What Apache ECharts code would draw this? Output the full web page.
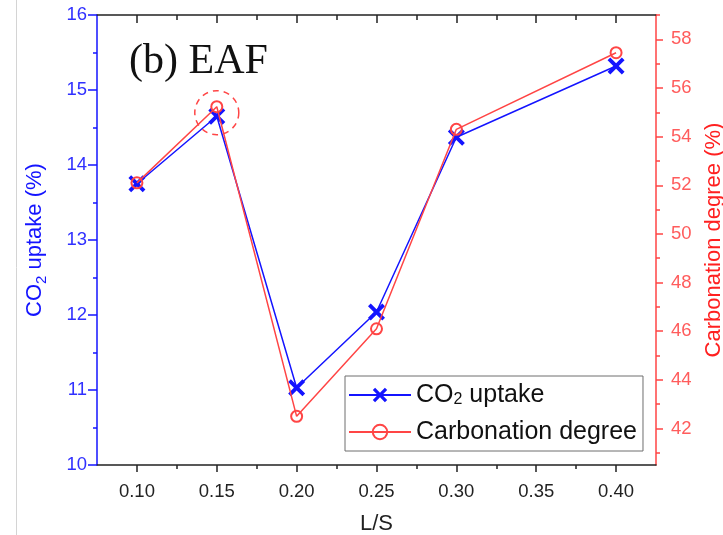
<!DOCTYPE html>
<html>
<head>
<meta charset="utf-8">
<title>EAF carbonation vs L/S</title>
<script src="https://cdn.jsdelivr.net/npm/echarts@6/dist/echarts.min.js"></script>
<style>
  html, body { margin: 0; padding: 0; background: #fff; overflow: hidden; }
  #chart { width: 723px; height: 535px; }
</style>
</head>
<body>
<div id="chart"></div>
<script>
// Liquid-to-solid ratio of each run
const lsRatio = [0.10, 0.15, 0.20, 0.25, 0.30, 0.40];
// CO2 uptake (%) at each L/S
const co2Uptake = [13.75, 14.65, 11.03, 12.04, 14.37, 15.32];
// Carbonation degree (%) at each L/S
const carbonationDegree = [52.1, 55.23, 42.5, 46.1, 54.3, 57.45];

// Tick positions
const xMajorTicks = [0.10, 0.15, 0.20, 0.25, 0.30, 0.35, 0.40];
const xMinorTicks = [0.125, 0.175, 0.225, 0.275, 0.325, 0.375];
const rightMajorTicks = [42, 44, 46, 48, 50, 52, 54, 56, 58];
const rightMinorTicks = [41, 43, 45, 47, 49, 51, 53, 55, 57, 59];

const FONT = "'Liberation Sans', Arial, sans-serif";
const BLUE = '#1414ff';
const RED = '#ff4545';
const X_RANGE = { min: 0.075, max: 0.425 };
const RIGHT_RANGE = { min: 40.5, max: 59 };

// Bold "X" marker drawn as a filled outline
const crossPath = 'path://M0,1.6 L1.6,0 L5,3.4 L8.4,0 L10,1.6 L6.6,5 L10,8.4 L8.4,10 L5,6.6 L1.6,10 L0,8.4 L3.4,5 Z';

const chart = echarts.init(document.getElementById('chart'), null, { renderer: 'canvas' });

const plainAxis = {
  type: 'value',
  splitLine: { show: false },
  axisLabel: { show: false },
  axisLine: { show: false },
};

chart.setOption({
  animation: false,
  backgroundColor: '#fff',
  textStyle: { fontFamily: FONT },
  title: {
    text: '(b) EAF',
    left: 124,
    top: 36,
    textStyle: { fontFamily: "'Liberation Serif', 'Times New Roman', serif", fontSize: 42, fontWeight: 'normal', color: '#111' }
  },
  grid: { left: 97, right: 67, top: 15, bottom: 70, containLabel: false, outerBoundsMode: 'none' },
  legend: {
    orient: 'vertical',
    left: 345,
    top: 376,
    padding: [6, 6, 6, 3],
    itemGap: 11,
    itemWidth: 62,
    itemHeight: 18,
    borderColor: '#6e6e6e',
    borderWidth: 1,
    borderRadius: 0,
    backgroundColor: '#fff',
    data: ['CO2 uptake', 'Carbonation degree'],
    formatter: function (name) {
      return name === 'CO2 uptake' ? 'CO{sub|2} uptake' : name;
    },
    textStyle: {
      fontFamily: FONT,
      fontSize: 25,
      color: '#111',
      lineHeight: 26,
      rich: { sub: { fontSize: 16, lineHeight: 16, verticalAlign: 'bottom', fontFamily: FONT, color: '#111' } }
    }
  },
  xAxis: [
    {
      ...X_RANGE,
      type: 'value',
      position: 'bottom',
      name: 'L/S',
      nameLocation: 'middle',
      nameGap: 48,
      nameTextStyle: { fontSize: 22, color: '#222', fontFamily: FONT },
      splitLine: { show: false },
      axisLine: { show: true, onZero: false, lineStyle: { color: '#222', width: 1.5 } },
      axisTick: { show: true, inside: false, length: 7, customValues: xMajorTicks, lineStyle: { color: '#222', width: 1.5 } },
      axisLabel: {
        show: true, margin: 17, fontSize: 18.5, color: '#222', fontFamily: FONT,
        customValues: xMajorTicks,
        formatter: v => v.toFixed(2)
      }
    },
    {
      ...plainAxis, ...X_RANGE,
      position: 'bottom',
      axisTick: { show: true, inside: false, length: 4, customValues: xMinorTicks, lineStyle: { color: '#222', width: 1.5 } }
    },
    {
      ...X_RANGE,
      type: 'value',
      position: 'top',
      splitLine: { show: false },
      axisLabel: { show: false },
      axisLine: { show: true, onZero: false, lineStyle: { color: '#222', width: 1.5 } },
      axisTick: { show: true, inside: true, length: 8, customValues: xMajorTicks, lineStyle: { color: '#222', width: 1.5 } }
    },
    {
      ...plainAxis, ...X_RANGE,
      position: 'top',
      axisTick: { show: true, inside: true, length: 5, customValues: xMinorTicks, lineStyle: { color: '#222', width: 1.5 } }
    }
  ],
  yAxis: [
    {
      type: 'value',
      position: 'left',
      min: 10,
      max: 16,
      interval: 1,
      name: 'CO{sub|2} uptake (%)',
      nameLocation: 'middle',
      nameGap: 48,
      nameRotate: 90,
      nameTextStyle: {
        fontSize: 22, color: BLUE, fontFamily: FONT, lineHeight: 28,
        rich: { sub: { fontSize: 15, lineHeight: 15, verticalAlign: 'bottom', color: BLUE, fontFamily: FONT } }
      },
      splitLine: { show: false },
      axisLine: { show: true, onZero: false, lineStyle: { color: BLUE, width: 1.5 } },
      axisTick: { show: true, inside: false, length: 9, lineStyle: { color: BLUE, width: 1.5 } },
      minorTick: { show: true, splitNumber: 2, length: 4, lineStyle: { color: BLUE, width: 1.5 } },
      axisLabel: { margin: 10, fontSize: 18.5, color: '#3030ff', fontFamily: FONT }
    },
    {
      ...RIGHT_RANGE,
      type: 'value',
      position: 'right',
      name: 'Carbonation degree (%)',
      nameLocation: 'middle',
      nameGap: 42,
      nameRotate: 90,
      nameTextStyle: { fontSize: 22, color: '#ff2020', fontFamily: FONT },
      splitLine: { show: false },
      axisLine: { show: true, onZero: false, lineStyle: { color: RED, width: 1.5 } },
      axisTick: { show: true, inside: false, length: 7, customValues: rightMajorTicks, lineStyle: { color: RED, width: 1.5 } },
      axisLabel: { margin: 15, fontSize: 18.5, color: '#ff5c5c', fontFamily: FONT, customValues: rightMajorTicks }
    },
    {
      ...plainAxis, ...RIGHT_RANGE,
      position: 'right',
      axisTick: { show: true, inside: false, length: 4, customValues: rightMinorTicks, lineStyle: { color: RED, width: 1.5 } }
    }
  ],
  graphic: [
    {
      type: 'line',
      shape: { x1: 16.5, y1: 0, x2: 16.5, y2: 535 },
      style: { stroke: '#d4d4d4', lineWidth: 1 },
      silent: true
    }
  ],
  series: [
    {
      name: 'CO2 uptake',
      type: 'line',
      xAxisIndex: 0,
      yAxisIndex: 0,
      data: lsRatio.map((x, i) => [x, co2Uptake[i]]),
      symbol: crossPath,
      symbolSize: 17,
      itemStyle: { color: BLUE },
      lineStyle: { color: BLUE, width: 1.5 },
      z: 3
    },
    {
      name: 'Carbonation degree',
      type: 'line',
      xAxisIndex: 0,
      yAxisIndex: 1,
      data: lsRatio.map((x, i) => [x, carbonationDegree[i]]),
      symbol: 'circle',
      symbolSize: 11,
      itemStyle: { color: 'rgba(255,255,255,0)', borderColor: RED, borderWidth: 2 },
      lineStyle: { color: RED, width: 1.5 },
      z: 4,
      markPoint: {
        silent: true,
        symbol: 'circle',
        symbolSize: 44,
        symbolOffset: [0, 6],
        label: { show: false },
        itemStyle: { color: 'rgba(0,0,0,0)', borderColor: RED, borderWidth: 1.5, borderType: [6, 5] },
        data: [{ coord: [lsRatio[1], carbonationDegree[1]] }]
      }
    }
  ]
});
</script>
</body>
</html>
